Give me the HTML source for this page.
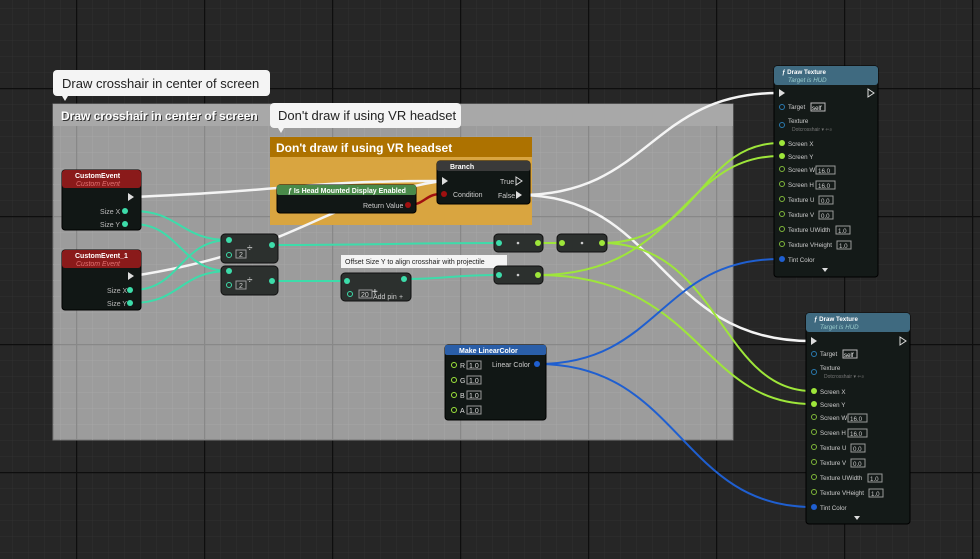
<!DOCTYPE html>
<html><head><meta charset="utf-8"><style>
html,body{margin:0;padding:0;background:#262626;}
svg{display:block;font-family:"Liberation Sans",sans-serif;}
</style></head><body>
<svg width="980" height="559" xmlns="http://www.w3.org/2000/svg">
<defs>
<pattern id="minor" x="12" y="8" width="16" height="16" patternUnits="userSpaceOnUse"><path d="M0 0H16M0 0V16" stroke="#303030" stroke-width="1" fill="none"/></pattern>
<pattern id="major" x="76" y="88" width="128" height="128" patternUnits="userSpaceOnUse"><path d="M0 0.5H128M0.5 0V128" stroke="#0e0e0e" stroke-width="1.5" fill="none"/></pattern>
<pattern id="cminor" x="12" y="8" width="16" height="16" patternUnits="userSpaceOnUse"><path d="M0 0H16M0 0V16" stroke="#a6a6a6" stroke-width="1" fill="none"/></pattern>
<pattern id="cmajor" x="76" y="88" width="128" height="128" patternUnits="userSpaceOnUse"><path d="M0 0.5H128M0.5 0V128" stroke="#888" stroke-width="1.5" fill="none"/></pattern>
</defs>
<rect width="980" height="559" fill="#262626"/>
<rect width="980" height="559" fill="url(#minor)"/>
<rect width="980" height="559" fill="url(#major)"/>

<!-- main comment -->
<rect x="53" y="104" width="680" height="336" fill="#9c9c9c" stroke="#777"/>
<rect x="53" y="104" width="680" height="336" fill="url(#cminor)"/>
<rect x="53" y="104" width="680" height="336" fill="url(#cmajor)"/>
<rect x="53" y="104" width="680" height="22" fill="#a8a8a8"/>
<text x="61" y="120" font-size="12" font-weight="bold" fill="#333" transform="translate(1,1)">Draw crosshair in center of screen</text>
<text x="61" y="120" font-size="12" font-weight="bold" fill="#fff">Draw crosshair in center of screen</text>
<rect x="53" y="70" width="217" height="26" rx="4" fill="#f4f4f4"/>
<path d="M62 96 L65 101 L68 96Z" fill="#f4f4f4"/>
<text x="62" y="88" font-size="13" fill="#222">Draw crosshair in center of screen</text>

<!-- orange comment -->
<rect x="270" y="137" width="262" height="88" fill="#d9a540"/>
<rect x="270" y="137" width="262" height="20" fill="#ad7200"/>
<text x="276" y="152" font-size="12" font-weight="bold" fill="#fff">Don't draw if using VR headset</text>
<rect x="270" y="103" width="191" height="25" rx="4" fill="#f4f4f4"/>
<path d="M278 128 L281 133 L284 128Z" fill="#f4f4f4"/>
<text x="278" y="120" font-size="13" fill="#222">Don't draw if using VR headset</text>

<!-- wires -->
<g fill="none" stroke-width="2.5">
<path d="M133 197 C300 190,300 181,441 181" stroke="#f4f4f4"/>
<path d="M133 276 C300 250,320 200,441 181" stroke="#f4f4f4"/>
<path d="M520 195 C650 195,650 93,778 93" stroke="#f4f4f4"/>
<path d="M520 195 C660 195,660 341,810 341" stroke="#f4f4f4"/>
<path d="M408 205 C425 205,425 194,441 194" stroke="#a01010"/>
</g>
<g fill="none" stroke-width="2" stroke="#3ddcaa">
<path d="M133 211 C180 211,180 240,229 240"/>
<path d="M133 224 C180 224,180 271,229 271"/>
<path d="M133 290 C180 290,180 240,229 240"/>
<path d="M133 303 C180 303,180 271,229 271"/>
<path d="M272 245 C390 245,390 243,499 243"/>
<path d="M272 281 L347 281"/>
<path d="M404 279 C450 279,450 275,499 275"/>
</g>
<g fill="none" stroke-width="2" stroke="#9ee63a">
<path d="M538 243 L562 243"/>
<path d="M602 243 C700 243,700 143,780 143"/>
<path d="M538 275 C680 275,680 156,780 156"/>
<path d="M602 243 C720 243,720 391,812 391"/>
<path d="M538 275 C700 275,700 404,812 404"/>
</g>
<g fill="none" stroke-width="2" stroke="#1f5fd0">
<path d="M538 364 C660 364,660 259,780 259"/>
<path d="M538 364 C680 364,680 507,812 507"/>
</g>

<!-- CustomEvent nodes -->
<g font-size="7" fill="#ddd">
<rect x="62" y="170" width="79" height="60" rx="3" fill="#111715" stroke="#000"/>
<rect x="62" y="170" width="79" height="18" rx="3" fill="#8a1a1a"/>
<text x="75" y="178" font-weight="bold" fill="#fff">CustomEvent</text>
<text x="76" y="186" font-style="italic" fill="#e07070">Custom Event</text>
<path d="M128 193 L134 197 L128 201Z" fill="#ddd"/>
<text x="100" y="214" fill="#bbb">Size X</text><circle cx="125" cy="211" r="3" fill="#3ddcaa"/>
<text x="100" y="227" fill="#bbb">Size Y</text><circle cx="125" cy="224" r="3" fill="#3ddcaa"/>

<rect x="62" y="250" width="79" height="60" rx="3" fill="#111715" stroke="#000"/>
<rect x="62" y="250" width="79" height="18" rx="3" fill="#8a1a1a"/>
<text x="75" y="258" font-weight="bold" fill="#fff">CustomEvent_1</text>
<text x="76" y="266" font-style="italic" fill="#e07070">Custom Event</text>
<path d="M128 272 L134 276 L128 280Z" fill="#ddd"/>
<text x="107" y="293" fill="#bbb">Size X</text><circle cx="130" cy="290" r="3" fill="#3ddcaa"/>
<text x="107" y="306" fill="#bbb">Size Y</text><circle cx="130" cy="303" r="3" fill="#3ddcaa"/>

<!-- IsHMD -->
<rect x="277" y="185" width="139" height="28" rx="3" fill="#111715" stroke="#000"/>
<rect x="277" y="185" width="139" height="10" rx="2" fill="#4a8a4a"/>
<text x="288" y="193" font-weight="bold" fill="#fff">ƒ Is Head Mounted Display Enabled</text>
<text x="363" y="208" fill="#ccc">Return Value</text><circle cx="408" cy="205" r="3" fill="#a01010"/>

<!-- Branch -->
<rect x="437" y="161" width="93" height="43" rx="3" fill="#111715" stroke="#000"/>
<rect x="437" y="161" width="93" height="10" rx="2" fill="#3a3a3a"/>
<text x="450" y="169" font-weight="bold" fill="#fff">Branch</text>
<path d="M442 177 L448 181 L442 185Z" fill="#ddd"/>
<circle cx="444" cy="194" r="3" fill="#a01010"/><text x="453" y="197" fill="#ccc">Condition</text>
<text x="500" y="184" fill="#ccc">True</text><path d="M516 177 L522 181 L516 185Z" fill="none" stroke="#ddd"/>
<text x="498" y="198" fill="#ccc">False</text><path d="M516 191 L522 195 L516 199Z" fill="#ddd"/>

<!-- div nodes -->
<rect x="221" y="234" width="57" height="29" rx="4" fill="#2c302e" stroke="#111"/>
<circle cx="229" cy="240" r="3" fill="#3ddcaa"/><circle cx="229" cy="255" r="2.5" fill="none" stroke="#3ddcaa"/>
<rect x="236" y="250" width="10" height="8" fill="none" stroke="#999"/><text x="239" y="257" fill="#ccc">2</text>
<text x="247" y="251" font-size="10" fill="#eee">÷</text><circle cx="272" cy="245" r="3" fill="#3ddcaa"/>
<rect x="221" y="266" width="57" height="29" rx="4" fill="#2c302e" stroke="#111"/>
<circle cx="229" cy="271" r="3" fill="#3ddcaa"/><circle cx="229" cy="285" r="2.5" fill="none" stroke="#3ddcaa"/>
<rect x="236" y="281" width="10" height="8" fill="none" stroke="#999"/><text x="239" y="288" fill="#ccc">2</text>
<text x="247" y="283" font-size="10" fill="#eee">÷</text><circle cx="272" cy="281" r="3" fill="#3ddcaa"/>

<!-- add node -->
<rect x="341" y="255" width="166" height="13" fill="#f4f4f4"/>
<text x="345" y="264" fill="#222">Offset Size Y to align crosshair with projectile</text>
<rect x="341" y="273" width="70" height="28" rx="4" fill="#2c302e" stroke="#111"/>
<circle cx="347" cy="281" r="3" fill="#3ddcaa"/><circle cx="350" cy="294" r="2.5" fill="none" stroke="#3ddcaa"/>
<rect x="359" y="290" width="13" height="8" fill="none" stroke="#999"/><text x="361" y="297" fill="#ccc">20</text>
<text x="372" y="295" font-size="10" fill="#eee">+</text><text x="373" y="299" fill="#ccc">Add pin</text><text x="399" y="299" fill="#ccc">+</text>
<circle cx="404" cy="279" r="3" fill="#3ddcaa"/>

<!-- small conversion nodes -->
<rect x="494" y="234" width="49" height="18" rx="4" fill="#2c302e" stroke="#111"/>
<circle cx="499" cy="243" r="3" fill="#3ddcaa"/><circle cx="518" cy="243" r="1.3" fill="#ccc"/><circle cx="538" cy="243" r="3" fill="#9ee63a"/>
<rect x="557" y="234" width="50" height="18" rx="4" fill="#2c302e" stroke="#111"/>
<circle cx="562" cy="243" r="3" fill="#9ee63a"/><circle cx="582" cy="243" r="1.3" fill="#ccc"/><circle cx="602" cy="243" r="3" fill="#9ee63a"/>
<rect x="494" y="266" width="49" height="18" rx="4" fill="#2c302e" stroke="#111"/>
<circle cx="499" cy="275" r="3" fill="#3ddcaa"/><circle cx="518" cy="275" r="1.3" fill="#ccc"/><circle cx="538" cy="275" r="3" fill="#9ee63a"/>

<!-- Make LinearColor -->
<rect x="445" y="345" width="101" height="75" rx="3" fill="#111715" stroke="#000"/>
<rect x="445" y="345" width="101" height="10" rx="2" fill="#2a5ea8"/>
<text x="459" y="353" font-weight="bold" fill="#fff">Make LinearColor</text>
<text x="492" y="367" fill="#ccc">Linear Color</text><circle cx="537" cy="364" r="3" fill="#1f5fd0"/>
<g>
<circle cx="454" cy="365" r="2.5" fill="none" stroke="#9ee63a"/><text x="460" y="368">R</text><rect x="467" y="361" width="14" height="8" fill="none" stroke="#999"/><text x="469" y="368">1.0</text>
<circle cx="454" cy="380" r="2.5" fill="none" stroke="#9ee63a"/><text x="460" y="383">G</text><rect x="467" y="376" width="14" height="8" fill="none" stroke="#999"/><text x="469" y="383">1.0</text>
<circle cx="454" cy="395" r="2.5" fill="none" stroke="#9ee63a"/><text x="460" y="398">B</text><rect x="467" y="391" width="14" height="8" fill="none" stroke="#999"/><text x="469" y="398">1.0</text>
<circle cx="454" cy="410" r="2.5" fill="none" stroke="#9ee63a"/><text x="460" y="413">A</text><rect x="467" y="406" width="14" height="8" fill="none" stroke="#999"/><text x="469" y="413">1.0</text>
</g>
</g>

<!-- Draw Texture nodes -->
<g font-size="6.2" fill="#ccc">
<g transform="translate(774,66)">
<rect width="104" height="211" rx="3" fill="#141a18" stroke="#000"/>
<rect width="104" height="19" rx="3" fill="#3f6a80"/>
<text x="8" y="8" font-weight="bold" fill="#fff">ƒ Draw Texture</text>
<text x="14" y="16" font-style="italic" fill="#9cc">Target is HUD</text>
<path d="M5 23 L11 27 L5 31Z" fill="#ddd"/><path d="M94 23 L100 27 L94 31Z" fill="none" stroke="#ddd"/>
<circle cx="8" cy="41" r="2.5" fill="none" stroke="#2a7ab0"/><text x="14" y="43">Target</text><rect x="37" y="37" width="14" height="8" fill="none" stroke="#bbb"/><text x="38" y="44" fill="#eee">self</text>
<circle cx="8" cy="59" r="2.5" fill="none" stroke="#2a7ab0"/><text x="14" y="57">Texture</text><text x="18" y="65" font-size="5" fill="#777">Dotcrosshair ▾ ⇐⌕</text>
<circle cx="8" cy="77" r="3" fill="#9ee63a"/><text x="14" y="80">Screen X</text>
<circle cx="8" cy="90" r="3" fill="#9ee63a"/><text x="14" y="93">Screen Y</text>
<circle cx="8" cy="103" r="2.5" fill="none" stroke="#7fb83a"/><text x="14" y="106">Screen W</text><rect x="42" y="100" width="19" height="8" fill="none" stroke="#999"/><text x="44" y="107">16.0</text>
<circle cx="8" cy="118" r="2.5" fill="none" stroke="#7fb83a"/><text x="14" y="121">Screen H</text><rect x="42" y="115" width="19" height="8" fill="none" stroke="#999"/><text x="44" y="122">16.0</text>
<circle cx="8" cy="133" r="2.5" fill="none" stroke="#7fb83a"/><text x="14" y="136">Texture U</text><rect x="45" y="130" width="14" height="8" fill="none" stroke="#999"/><text x="47" y="137">0.0</text>
<circle cx="8" cy="148" r="2.5" fill="none" stroke="#7fb83a"/><text x="14" y="151">Texture V</text><rect x="45" y="145" width="14" height="8" fill="none" stroke="#999"/><text x="47" y="152">0.0</text>
<circle cx="8" cy="163" r="2.5" fill="none" stroke="#7fb83a"/><text x="14" y="166">Texture UWidth</text><rect x="62" y="160" width="14" height="8" fill="none" stroke="#999"/><text x="64" y="167">1.0</text>
<circle cx="8" cy="178" r="2.5" fill="none" stroke="#7fb83a"/><text x="14" y="181">Texture VHeight</text><rect x="63" y="175" width="14" height="8" fill="none" stroke="#999"/><text x="65" y="182">1.0</text>
<circle cx="8" cy="193" r="3" fill="#1f5fd0"/><text x="14" y="196">Tint Color</text>
<path d="M48 202 L54 202 L51 206Z" fill="#ddd"/>
</g>
<g transform="translate(806,313)">
<rect width="104" height="211" rx="3" fill="#141a18" stroke="#000"/>
<rect width="104" height="19" rx="3" fill="#3f6a80"/>
<text x="8" y="8" font-weight="bold" fill="#fff">ƒ Draw Texture</text>
<text x="14" y="16" font-style="italic" fill="#9cc">Target is HUD</text>
<path d="M5 24 L11 28 L5 32Z" fill="#ddd"/><path d="M94 24 L100 28 L94 32Z" fill="none" stroke="#ddd"/>
<circle cx="8" cy="41" r="2.5" fill="none" stroke="#2a7ab0"/><text x="14" y="43">Target</text><rect x="37" y="37" width="14" height="8" fill="none" stroke="#bbb"/><text x="38" y="44" fill="#eee">self</text>
<circle cx="8" cy="59" r="2.5" fill="none" stroke="#2a7ab0"/><text x="14" y="57">Texture</text><text x="18" y="65" font-size="5" fill="#777">Dotcrosshair ▾ ⇐⌕</text>
<circle cx="8" cy="78" r="3" fill="#9ee63a"/><text x="14" y="81">Screen X</text>
<circle cx="8" cy="91" r="3" fill="#9ee63a"/><text x="14" y="94">Screen Y</text>
<circle cx="8" cy="104" r="2.5" fill="none" stroke="#7fb83a"/><text x="14" y="107">Screen W</text><rect x="42" y="101" width="19" height="8" fill="none" stroke="#999"/><text x="44" y="108">16.0</text>
<circle cx="8" cy="119" r="2.5" fill="none" stroke="#7fb83a"/><text x="14" y="122">Screen H</text><rect x="42" y="116" width="19" height="8" fill="none" stroke="#999"/><text x="44" y="123">16.0</text>
<circle cx="8" cy="134" r="2.5" fill="none" stroke="#7fb83a"/><text x="14" y="137">Texture U</text><rect x="45" y="131" width="14" height="8" fill="none" stroke="#999"/><text x="47" y="138">0.0</text>
<circle cx="8" cy="149" r="2.5" fill="none" stroke="#7fb83a"/><text x="14" y="152">Texture V</text><rect x="45" y="146" width="14" height="8" fill="none" stroke="#999"/><text x="47" y="153">0.0</text>
<circle cx="8" cy="164" r="2.5" fill="none" stroke="#7fb83a"/><text x="14" y="167">Texture UWidth</text><rect x="62" y="161" width="14" height="8" fill="none" stroke="#999"/><text x="64" y="168">1.0</text>
<circle cx="8" cy="179" r="2.5" fill="none" stroke="#7fb83a"/><text x="14" y="182">Texture VHeight</text><rect x="63" y="176" width="14" height="8" fill="none" stroke="#999"/><text x="65" y="183">1.0</text>
<circle cx="8" cy="194" r="3" fill="#1f5fd0"/><text x="14" y="197">Tint Color</text>
<path d="M48 203 L54 203 L51 207Z" fill="#ddd"/>
</g>
</g>
</svg>
</body></html>
